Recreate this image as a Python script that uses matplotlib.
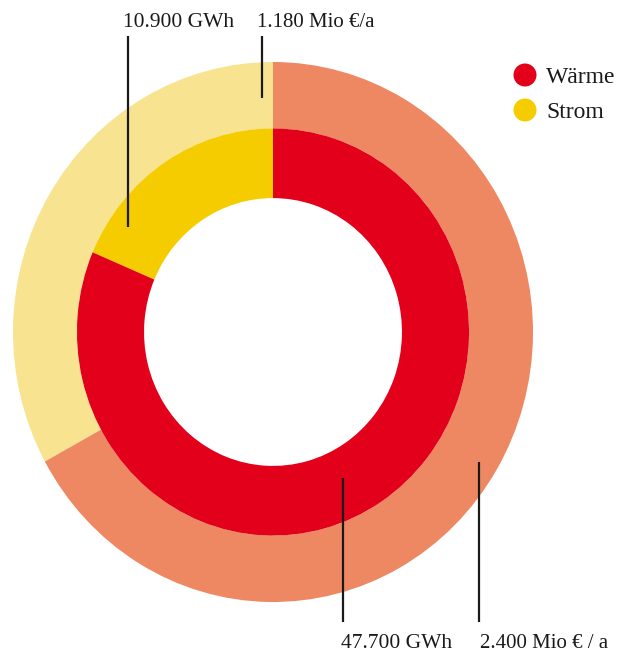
import matplotlib
matplotlib.use("Agg")
import matplotlib.pyplot as plt
from matplotlib.patches import Ellipse

categories = ["Wärme", "Strom"]
energie_gwh = [47700, 10900]
kosten_mio = [2400, 1180]
label_energie = ["47.700 GWh", "10.900 GWh"]
label_kosten = ["2.400 Mio € / a", "1.180 Mio €/a"]

inner_colors = ["#E2001A", "#F5CC00"]
outer_colors = ["#EE8862", "#F8E490"]

W, H = 623, 656
fig = plt.figure(figsize=(W / 100, H / 100), dpi=100)
ax = fig.add_axes([0, 0, 1, 1])

cx, cy = 273, 332
rx, ry = 260, 270

# Draw in order so Strom is counter-clockwise from the top
ax.pie(kosten_mio[::-1], colors=outer_colors[::-1], radius=1.0, startangle=90,
       counterclock=True, wedgeprops=dict(width=1 - 0.754, linewidth=0))
ax.pie(energie_gwh[::-1], colors=inner_colors[::-1], radius=0.754, startangle=90,
       counterclock=True, wedgeprops=dict(width=0.754 - 0.496, linewidth=0))

ax.set_aspect("auto")
ax.set_xlim(-cx / rx, (W - cx) / rx)
ax.set_ylim((cy - H) / ry, cy / ry)
ax.axis("off")

def px(x, y):
    return ((x - cx) / rx, (cy - y) / ry)

def vline(x, y0, y1):
    a = px(x, y0); b = px(x, y1)
    ax.plot([a[0], b[0]], [a[1], b[1]], color="#1a1a1a", lw=1.6, solid_capstyle="butt")

font = dict(family=["Liberation Serif", "DejaVu Serif"], color="#1a1a1a")

vline(128, 36, 227)
vline(262, 36, 98)
vline(343, 478, 622)
vline(479, 462, 622)

ax.text(*px(123, 27), label_energie[1], ha="left", va="baseline", fontsize=15.5, **font)
ax.text(*px(257, 27), label_kosten[1], ha="left", va="baseline", fontsize=15, **font)
ax.text(*px(341, 648), label_energie[0], ha="left", va="baseline", fontsize=15.5, **font)
ax.text(*px(480, 648), label_kosten[0], ha="left", va="baseline", fontsize=15, **font)

# Legend
for i, (cat, col) in enumerate(zip(categories, inner_colors)):
    yy = 75 + 35 * i
    c = px(525, yy)
    ax.add_patch(Ellipse(c, 23 / rx, 23 / ry, color=col, lw=0))
    ax.text(*px(546, yy + 8), cat, ha="left", va="baseline", fontsize=17, **font)

fig.savefig("out.png", dpi=100)
